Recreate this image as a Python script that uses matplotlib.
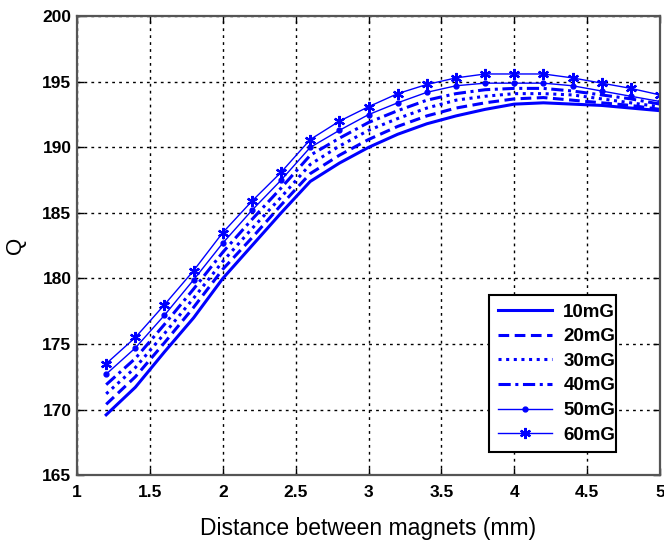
import matplotlib
matplotlib.use("Agg")
import matplotlib.pyplot as plt

distance = [1.2, 1.4, 1.6, 1.8, 2.0, 2.2, 2.4, 2.6, 2.8, 3.0,
            3.2, 3.4, 3.6, 3.8, 4.0, 4.2, 4.4, 4.6, 4.8, 5.0]

q_10mg = [169.6, 171.7, 174.4, 177.0, 180.0, 182.5, 185.0, 187.4, 188.8, 190.0,
          191.0, 191.8, 192.4, 192.9, 193.3, 193.4, 193.3, 193.2, 193.0, 192.8]
q_20mg = [170.4, 172.5, 175.1, 177.8, 180.7, 183.1, 185.6, 188.0, 189.4, 190.6,
          191.6, 192.4, 193.0, 193.4, 193.7, 193.8, 193.6, 193.4, 193.2, 192.9]
q_30mg = [171.2, 173.2, 175.8, 178.5, 181.3, 183.8, 186.2, 188.7, 190.1, 191.3,
          192.2, 193.0, 193.6, 193.9, 194.1, 194.1, 194.0, 193.7, 193.4, 193.1]
q_40mg = [171.9, 173.9, 176.5, 179.2, 182.0, 184.5, 186.9, 189.4, 190.7, 191.9,
          192.8, 193.6, 194.1, 194.4, 194.5, 194.5, 194.3, 194.0, 193.7, 193.3]
q_50mg = [172.7, 174.7, 177.2, 179.9, 182.7, 185.2, 187.5, 190.0, 191.3, 192.5,
          193.4, 194.2, 194.7, 194.9, 194.9, 194.9, 194.7, 194.3, 193.9, 193.5]
q_60mg = [173.5, 175.5, 178.0, 180.6, 183.5, 185.9, 188.1, 190.6, 192.0, 193.1,
          194.1, 194.8, 195.3, 195.6, 195.6, 195.6, 195.3, 194.9, 194.5, 194.0]

labels = ["10mG", "20mG", "30mG", "40mG", "50mG", "60mG"]

blue = "#0000ff"
tick_font = ["Liberation Sans Narrow", "Liberation Sans", "DejaVu Sans"]

fig = plt.figure(figsize=(6.64, 5.43), dpi=100)
ax = fig.add_axes([0.116, 0.125, 0.878, 0.845])

ax.plot(distance, q_10mg, color=blue, lw=2.2, ls="-", label=labels[0])
ax.plot(distance, q_20mg, color=blue, lw=2.2, ls=(0, (3.5, 1.8)), label=labels[1])
ax.plot(distance, q_30mg, color=blue, lw=2.2, ls=(0, (1, 1.5)), label=labels[2])
ax.plot(distance, q_40mg, color=blue, lw=2.2, ls=(0, (4, 1.5, 1, 1.5)), label=labels[3])
ax.plot(distance, q_50mg, color=blue, lw=1.0, ls="-", marker="o", ms=3.5, label=labels[4])
ax.plot(distance, q_60mg, color=blue, lw=1.0, ls="-", marker=(6, 2, 0), ms=8, mew=1.6,
        label=labels[5])

ax.set_xlim(1, 5)
ax.set_ylim(165, 200)
ax.set_xticks([1, 1.5, 2, 2.5, 3, 3.5, 4, 4.5, 5])
ax.set_xticklabels(["1", "1.5", "2", "2.5", "3", "3.5", "4", "4.5", "5"])
ax.set_yticks(range(165, 201, 5))

ax.grid(True, color="black", ls=(0, (2, 3)), lw=1.0)
ax.tick_params(direction="in", length=5, width=1, top=True, right=True, pad=4,
               colors="black")
ax.tick_params(axis="x", pad=7)
for lab in ax.get_xticklabels() + ax.get_yticklabels():
    lab.set_family(tick_font)
    lab.set_fontweight("bold")
    lab.set_fontsize(12.5)
for sp in ax.spines.values():
    sp.set_color("#555555")
    sp.set_linewidth(1.6)

ax.set_xlabel("Distance between magnets (mm)", fontsize=16.5, family="Liberation Sans",
              labelpad=12)
ax.set_ylabel("Q", fontsize=16, family="Liberation Sans", labelpad=12)

leg = ax.legend(loc="lower left", bbox_to_anchor=(0.707, 0.05, 0.218, 0.34),
                mode="expand", borderaxespad=0,
                prop={"weight": "bold", "size": 13.5, "family": tick_font},
                fancybox=False, edgecolor="black", framealpha=1, handlelength=2.9,
                labelspacing=0.4, borderpad=0.45, handletextpad=0.6)
leg.get_frame().set_linewidth(1.5)

fig.savefig("out.png", dpi=100)
